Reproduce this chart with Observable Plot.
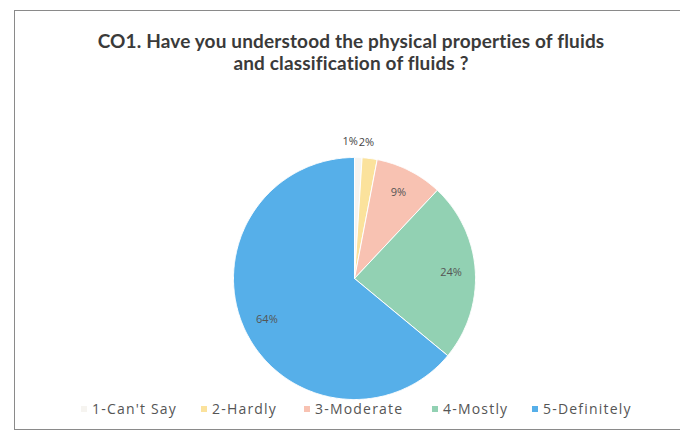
<!DOCTYPE html>
<html>
<head>
<meta charset="utf-8">
<script src="https://cdn.jsdelivr.net/npm/d3@7"></script>
<script src="https://cdn.jsdelivr.net/npm/@observablehq/plot@0.6"></script>
<style>
  html, body { margin: 0; padding: 0; background: #fff; }
  #wrap { position: relative; width: 680px; height: 433px; overflow: hidden; }
  #frame { position: absolute; left: 14px; top: 10px; width: 700px; height: 420px;
           border-left: 1px solid #8a8a8a; border-top: 1px solid #8a8a8a; border-bottom: 1px solid #8a8a8a; box-sizing: border-box; }
  #title { position: absolute; left: 0; top: 30px; width: 702px; text-align: center;
           font-family: Lato, "Open Sans", sans-serif; font-weight: bold; font-size: 19px;
           line-height: 22px; color: #3a3a3a; letter-spacing: 0.15px; }
  #chart { position: absolute; left: 0; top: 80px; }
  #legend { position: absolute; left: 0; top: 399px; width: 680px; height: 20px;
            font-family: "Open Sans", sans-serif; font-size: 14px; letter-spacing: 1.2px; color: #555; }
  .item { position: absolute; top: 0; white-space: nowrap; line-height: 20px; }
  .sw { position: absolute; top: 7px; width: 6px; height: 6px; }
</style>
</head>
<body>
<div id="wrap">
  <div id="frame"></div>
  <div id="title">CO1. Have you understood the physical properties of fluids<br>and classification of fluids ?</div>
  <div id="chart"></div>
  <div id="legend"></div>
</div>
<script>
const categories = ["1-Can't Say", "2-Hardly", "3-Moderate", "4-Mostly", "5-Definitely"];
const percents = [1, 2, 9, 24, 64];
const labels = ["1%", "2%", "9%", "24%", "64%"];
const colors = ["#f6f4f0", "#fbe29c", "#f8c2b2", "#92d1b3", "#56afe9"];
const legendTextX = [92, 212, 315, 443, 543];

const W = 680, H = 320;
const cx = 354, cy = 198, R = 121;

// angles (clockwise from 12 o'clock)
const pie = d3.pie().sort(null).value(d => d)(percents);

// polygon points for each slice in unit coordinates (x right, y up)
const polyData = [];
pie.forEach((p, i) => {
  const n = Math.max(4, Math.ceil((p.endAngle - p.startAngle) / 0.01));
  polyData.push({cat: categories[i], x: 0, y: 0});
  for (let k = 0; k <= n; k++) {
    const a = p.startAngle + (p.endAngle - p.startAngle) * k / n;
    polyData.push({cat: categories[i], x: Math.sin(a), y: Math.cos(a)});
  }
  polyData.push({cat: categories[i], x: 0, y: 0});
});

// label positions: small slices outside, others inside
const labelData = pie.map((p, i) => {
  const mid = (p.startAngle + p.endAngle) / 2;
  const outside = percents[i] < 5;
  const r = outside ? 1.13 : 0.8;
  return {text: labels[i], x: r * Math.sin(mid), y: r * Math.cos(mid), outside, i};
});

const plot = Plot.plot({
  width: W,
  height: H,
  margin: 0,
  x: {domain: [-cx / R, (W - cx) / R], axis: null},
  y: {domain: [-(H - cy) / R, cy / R], axis: null},
  color: {domain: categories, range: colors},
  style: {background: "transparent", fontFamily: "'Open Sans', sans-serif"},
  marks: [
    Plot.line(polyData, {x: "x", y: "y", z: "cat", fill: "cat", stroke: "white", strokeWidth: 1, curve: "linear"}),
    Plot.text(labelData.filter(d => d.outside && d.i === 0), {x: "x", y: "y", text: "text", textAnchor: "end", dx: -1, fontSize: 11, fill: "#444"}),
    Plot.text(labelData.filter(d => d.outside && d.i === 1), {x: "x", y: "y", text: "text", textAnchor: "start", dx: -13, fontSize: 11, fill: "#444"}),
    Plot.text(labelData.filter(d => !d.outside), {x: "x", y: "y", text: "text", fontSize: 11, fill: "#555"})
  ]
});
document.getElementById("chart").appendChild(plot);

const leg = document.getElementById("legend");
categories.forEach((c, i) => {
  const it = document.createElement("div");
  it.className = "item";
  it.style.left = legendTextX[i] + "px";
  const sw = document.createElement("span");
  sw.className = "sw";
  sw.style.left = "-11px";
  sw.style.background = colors[i];
  it.appendChild(sw);
  it.appendChild(document.createTextNode(c));
  leg.appendChild(it);
});
</script>
</body>
</html>
